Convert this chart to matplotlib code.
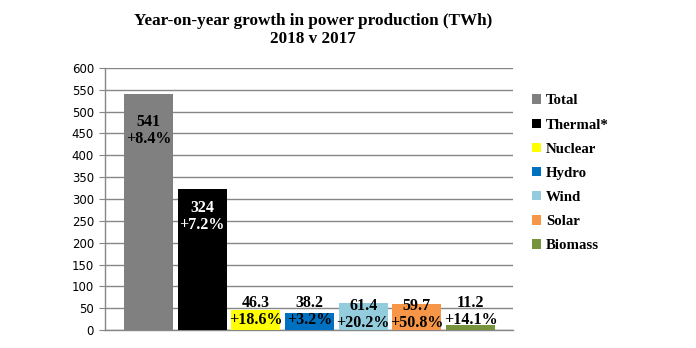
import matplotlib
matplotlib.use("Agg")
import matplotlib.pyplot as plt
from matplotlib.patches import Patch

categories = ["Total", "Thermal*", "Nuclear", "Hydro", "Wind", "Solar", "Biomass"]
values = [541, 324, 46.3, 38.2, 61.4, 59.7, 11.2]
growth = ["+8.4%", "+7.2%", "+18.6%", "+3.2%", "+20.2%", "+50.8%", "+14.1%"]
colors = ["#808080", "#000000", "#FFFF00", "#0070C0", "#93CDDD", "#F79646", "#77933C"]
label_colors = ["black", "white", "black", "black", "black", "black", "black"]
# vertical centre of each two-line value label, in data units
label_y = [457, 261, 42, 42, 36, 36, 42]
yticks = list(range(0, 601, 50))

serif = "Liberation Serif"

fig = plt.figure(figsize=(6.96, 3.48), dpi=100)
ax = fig.add_axes([105 / 696, 1 - 330 / 348, 408 / 696, 262 / 348])

x = list(range(len(categories)))
ax.bar(x, values, width=0.91, color=colors, zorder=3)

for xi, v, g, ly, lc in zip(x, values, growth, label_y, label_colors):
    ax.text(xi, ly, f"{v:g}\n{g}", ha="center", va="center",
            fontsize=11.5, fontweight="bold", family=serif, color=lc,
            linespacing=1.08, zorder=4)

ax.set_xlim(-0.81, 6.79)
ax.set_ylim(0, 600)
ax.set_yticks(yticks)
ax.set_xticks([])
ax.yaxis.grid(True, color="#868686", linewidth=1)
ax.set_axisbelow(True)
for s in ["top", "right"]:
    ax.spines[s].set_visible(False)
for s in ["left", "bottom"]:
    ax.spines[s].set_color("#868686")
    ax.spines[s].set_linewidth(1)
ax.tick_params(axis="y", length=4, color="#868686", labelsize=8.5, pad=4)
for t in ax.get_yticklabels():
    t.set_family("DejaVu Sans")

fig.text(313 / 696, 1 - 30 / 348, "Year-on-year growth in power production (TWh)\n2018 v 2017",
         ha="center", va="center", fontsize=12.3, fontweight="bold", family=serif,
         linespacing=1.2)

handles = [Patch(facecolor=c, edgecolor="none") for c in colors]
leg = fig.legend(handles, categories, loc="upper left",
                 bbox_to_anchor=(519 / 696, 1 - 81 / 348), frameon=False,
                 prop={"family": serif, "weight": "bold", "size": 10.7},
                 handlelength=0.6, handleheight=0.6, handletextpad=0.3,
                 labelspacing=0.75)

fig.savefig("out.png", dpi=100)
